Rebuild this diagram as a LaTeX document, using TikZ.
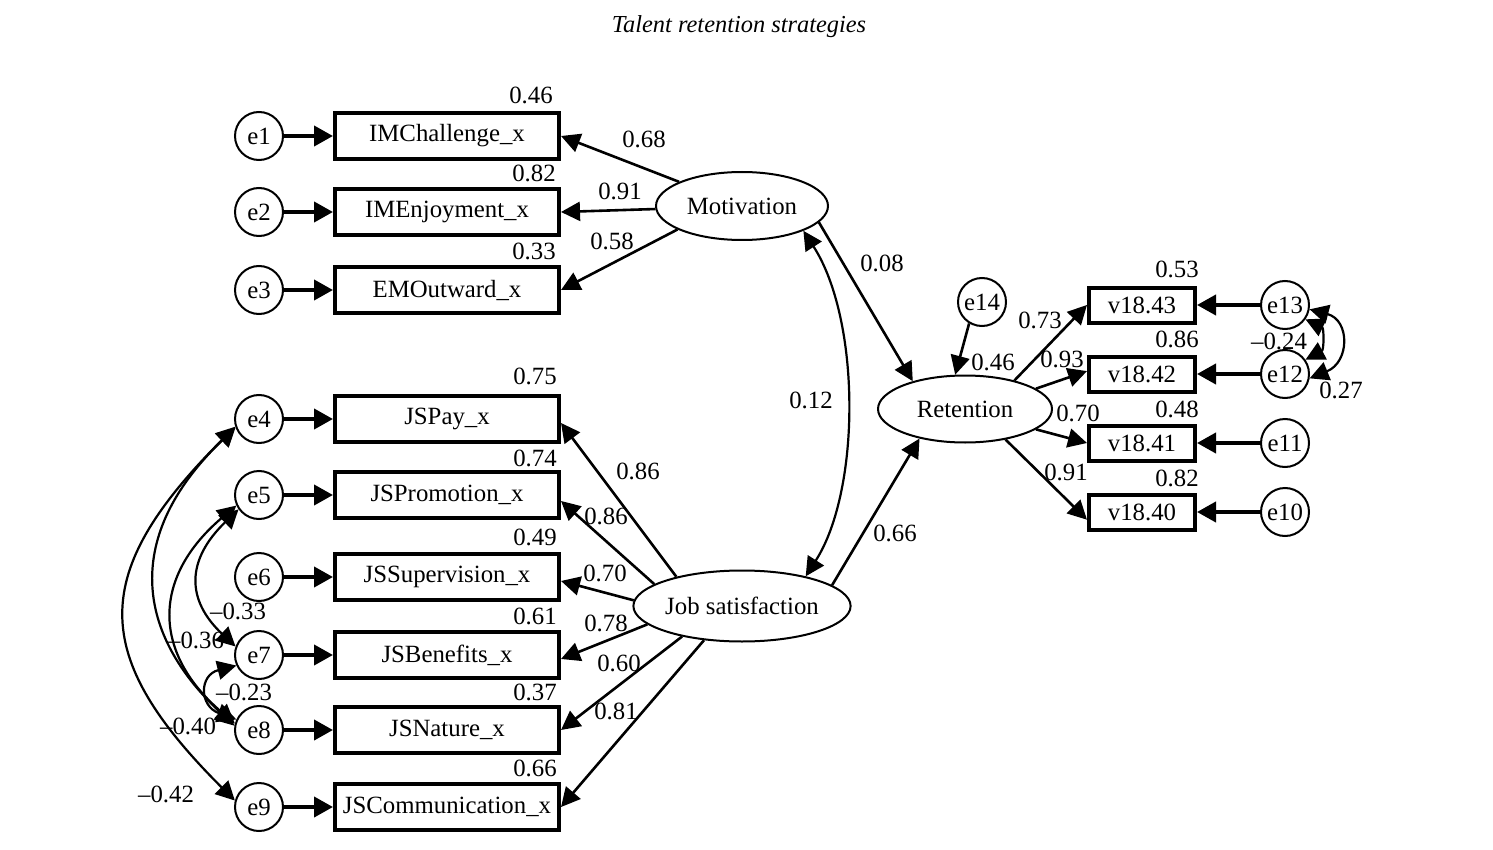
\documentclass[tikz,border=0pt]{standalone}
\usepackage{fontspec}
\setmainfont{Liberation Serif}
\usepackage{tikz}
\usetikzlibrary{shapes.geometric, arrows.meta}
\tikzset{
	obs/.style ={rectangle, draw=black, line width=2pt, minimum width=112pt, minimum height=23pt, inner sep=0pt},
	obsr/.style={obs, minimum width=53pt, minimum height=17.5pt},
	err/.style ={circle, draw=black, line width=1pt, minimum size=24pt, inner sep=0pt},
	lat/.style ={ellipse, draw=black, line width=1pt, minimum width=86pt, minimum height=34pt, inner sep=0pt},
	lbl/.style ={inner sep=0pt},
	sig/.style ={-{Triangle[length=9.5pt, width=9.5pt]}, line width=1.3pt},
	esig/.style={-{Triangle[length=9.5pt, width=10pt]}, line width=2pt},
	cov/.style ={{Triangle[length=9.5pt, width=9.5pt]}-{Triangle[length=9.5pt, width=9.5pt]}, line width=1.1pt},
}
\begin{document}
\begin{tikzpicture}[x=0.5pt, y=-0.5pt, font=\fontsize{12.4}{14}\selectfont]
	\useasboundingbox (0,0) rectangle (1493,850);
	\node[lbl, font=\fontsize{12.2}{14}\selectfont\itshape] (title) at (739,27) {Talent retention strategies};
	% indicators on the left
	\node[obs] (imc)  at (447,136) {IMChallenge\_x};
	\node[obs] (ime)  at (447,212) {IMEnjoyment\_x};
	\node[obs] (emo)  at (447,290) {EMOutward\_x};
	\node[obs] (jsp)  at (447,419) {JSPay\_x};
	\node[obs] (jspr) at (447,495) {JSPromotion\_x};
	\node[obs] (jss)  at (447,577) {JSSupervision\_x};
	\node[obs] (jsb)  at (447,655) {JSBenefits\_x};
	\node[obs] (jsn)  at (447,730) {JSNature\_x};
	\node[obs] (jsc)  at (447,807) {JSCommunication\_x};
	\node[err] (e1) at (259,136) {e1};
	\node[err] (e2) at (259,212) {e2};
	\node[err] (e3) at (259,290) {e3};
	\node[err] (e4) at (259,419) {e4};
	\node[err] (e5) at (259,495) {e5};
	\node[err] (e6) at (259,577) {e6};
	\node[err] (e7) at (259,655) {e7};
	\node[err] (e8) at (259,730) {e8};
	\node[err] (e9) at (259,807) {e9};
	% latent variables
	\node[lat] (mot) at (742,206) {Motivation};
	\node[lat, minimum width=104pt, minimum height=35.5pt] (js) at (742,606) {Job satisfaction};
	\node[lat, minimum width=87pt, minimum height=33.5pt] (ret) at (965,409) {Retention};
	\node[err] (e14) at (982,302) {e14};
	% indicators on the right
	\node[obsr] (v43) at (1142,305) {v18.43};
	\node[obsr] (v42) at (1142,374) {v18.42};
	\node[obsr] (v41) at (1142,443) {v18.41};
	\node[obsr] (v40) at (1142,512) {v18.40};
	\node[err] (e13) at (1285,305) {e13};
	\node[err] (e12) at (1285,374) {e12};
	\node[err] (e11) at (1285,443) {e11};
	\node[err] (e10) at (1285,512) {e10};
	% error terms
	\draw[esig] (e1) -- (imc);
	\draw[esig] (e2) -- (ime);
	\draw[esig] (e3) -- (emo);
	\draw[esig] (e4) -- (jsp);
	\draw[esig] (e5) -- (jspr);
	\draw[esig] (e6) -- (jss);
	\draw[esig] (e7) -- (jsb);
	\draw[esig] (e8) -- (jsn);
	\draw[esig] (e9) -- (jsc);
	\draw[esig] (e13) -- (v43);
	\draw[esig] (e12) -- (v42);
	\draw[esig] (e11) -- (v41);
	\draw[esig] (e10) -- (v40);
	% loadings
	\draw[sig] (mot.159) -- (imc.east);
	\draw[sig] (mot.182) -- (ime.east);
	\draw[sig] (mot.200) -- (emo.east);
	\draw[sig] (js.156) -- (jsp.-2.5);
	\draw[sig] (js.166) -- (jspr.-3.5);
	\draw[sig] (js.177) -- (jss.-2);
	\draw[sig] (js.191) -- (jsb.-2.5);
	\draw[sig] (js.207) -- (jsn.east);
	\draw[sig] (js.222) -- (jsc.east);
	\draw[sig] (ret.30) -- (v43.west);
	\draw[sig] (ret.16) -- (v42.177);
	\draw[sig] (ret.-16) -- (v41.west);
	\draw[sig] (ret.-37) -- (v40.188);
	% structural paths
	\draw[sig] (mot.-12) -- (ret.152);
	\draw[sig] (js.13) -- (ret.213);
	\draw[sig] (e14.239) -- (ret.106);
	% covariances
	\draw[cov] (mot.-22) .. controls (861,320) and (861,490) .. (js.25);
	\draw[cov] (e4.198) .. controls (89,573) and (89,655) .. (e9.165);
	\draw[cov] (e4.200) .. controls (129,530) and (129,627) .. (e8.170);
	\draw[cov] (e5.205) .. controls (152,577) and (152,652) .. (e8.165);
	\draw[cov] (e5.215) .. controls (186,560) and (186,600) .. (e7.160);
	\draw[cov] (e7.205) .. controls (199,675) and (199,706) .. (e8.155);
	\draw[cov] (e13.-35) .. controls (1324,328) and (1324,350) .. (e12.35);
	\draw[cov] (e13.-10) .. controls (1350,320) and (1350,362) .. (e12.-10);
	% estimates
	\node[lbl] (r1) at (531,95) {0.46};
	\node[lbl] (r2) at (534,173) {0.82};
	\node[lbl] (r3) at (534,251) {0.33};
	\node[lbl] (r4) at (535,376) {0.75};
	\node[lbl] (r5) at (535,458) {0.74};
	\node[lbl] (r6) at (535,537) {0.49};
	\node[lbl] (r7) at (535,616) {0.61};
	\node[lbl] (r8) at (535,692) {0.37};
	\node[lbl] (r9) at (535,768) {0.66};
	\node[lbl] (r10) at (1177,269) {0.53};
	\node[lbl] (r11) at (1177,339) {0.86};
	\node[lbl] (r12) at (1177,409) {0.48};
	\node[lbl] (r13) at (1177,478) {0.82};
	\node[lbl] (r14) at (993,362) {0.46};
	\node[lbl] (l1) at (644,139) {0.68};
	\node[lbl] (l2) at (620,191) {0.91};
	\node[lbl] (l3) at (612,241) {0.58};
	\node[lbl] (l4) at (638,471) {0.86};
	\node[lbl] (l5) at (606,516) {0.86};
	\node[lbl] (l6) at (605,573) {0.70};
	\node[lbl] (l7) at (606,623) {0.78};
	\node[lbl] (l8) at (619,663) {0.60};
	\node[lbl] (l9) at (616,711) {0.81};
	\node[lbl] (l10) at (1040,320) {0.73};
	\node[lbl] (l11) at (1062,359) {0.93};
	\node[lbl] (l12) at (1078,413) {0.70};
	\node[lbl] (l13) at (1066,472) {0.91};
	\node[lbl] (b1) at (882,263) {0.08};
	\node[lbl] (b2) at (895,533) {0.66};
	\node[lbl] (c1) at (811,400) {0.12};
	\node[lbl] (c2) at (166,794) {--0.42};
	\node[lbl] (c3) at (188,726) {--0.40};
	\node[lbl] (c4) at (196,640) {--0.36};
	\node[lbl] (c5) at (238,611) {--0.33};
	\node[lbl] (c6) at (244,692) {--0.23};
	\node[lbl] (c7) at (1279,341) {--0.24};
	\node[lbl] (c8) at (1341,390) {0.27};
\end{tikzpicture}
\end{document}
